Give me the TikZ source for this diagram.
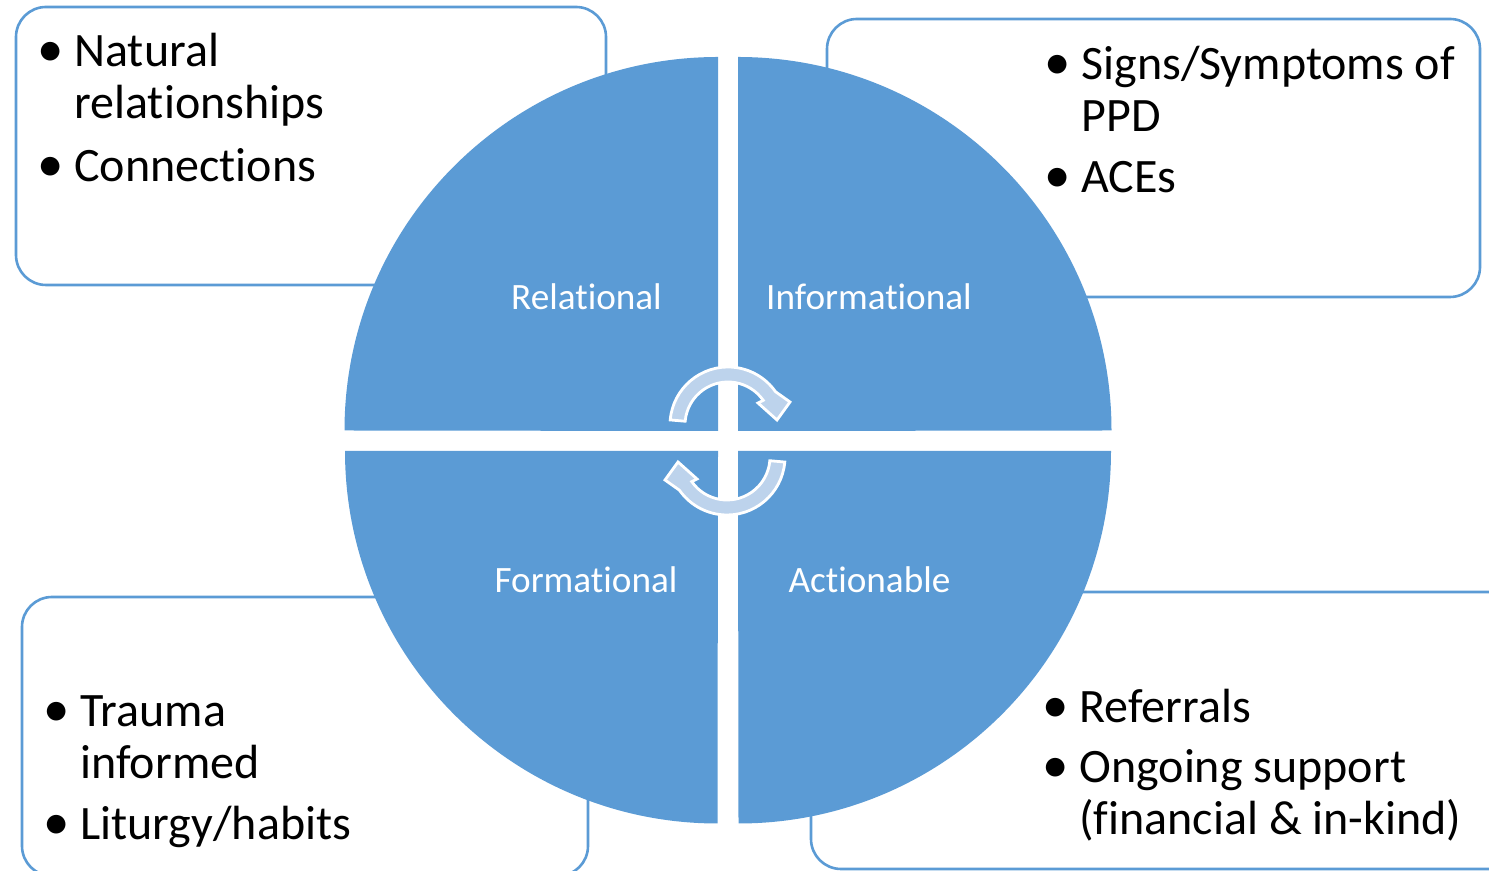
\documentclass[tikz,border=0pt]{standalone}
\usepackage{fontspec}
\setmainfont{Carlito}[Ligatures={CommonOff,ContextualOff}]
\usepackage{tikz}
\usetikzlibrary{positioning,calc}

\definecolor{quadblue}{HTML}{5B9BD5}
\definecolor{arrowblue}{HTML}{BDD3EC}

\newcommand{\bulitem}[1]{\makebox[18.5pt][l]{\scalebox{1.1}{\textbullet}}\begin{tabular}[t]{@{}l@{}}#1\end{tabular}}

\tikzset{
  infobox/.style={draw=quadblue, line width=1.3pt, fill=white, rounded corners=15pt, inner sep=0pt},
  quad/.style={fill=quadblue, draw=none},
  quadlabel/.style={text=white, font=\fontsize{18.6pt}{20pt}\selectfont, anchor=base, inner sep=0pt},
  itemtxt/.style={font=\fontsize{24pt}{26pt}\selectfont, anchor=base west, inner sep=0pt},
  arrowshape/.style={fill=arrowblue, draw=white, line width=1.4pt, line join=miter},
  cyclearrow/.pic={
    \path[arrowshape] (175:58) arc[start angle=175, end angle=35, radius=58]
      -- (62,23) -- (49,5) -- (30,22) -- (35:43)
      arc[start angle=35, end angle=175, radius=43] -- cycle;
  }
}

\begin{document}
\begin{tikzpicture}[x=0.5pt, y=0.5pt]

  \path[use as bounding box, clip] (0,0) rectangle (1489,871);

  % boxes behind the circle
  \node[infobox, minimum width=295pt, minimum height=139pt] (relbox) at (311,725) {};
  \node[infobox, minimum width=326.5pt, minimum height=139pt] (infbox) at (1153.5,713) {};
  \node[infobox, minimum width=283pt, minimum height=139.5pt] (forbox) at (305,134.5) {};
  \node[infobox, minimum width=364.5pt, minimum height=138.5pt] (actbox) at (1175.5,140.5) {};

  % four quarters
  \path[quad] (718,440) -- ++(0,374) arc[start angle=90, end angle=180, radius=373.5] -- cycle;
  \path[quad] (738,440) -- ++(0,374) arc[start angle=90, end angle=0, radius=373.5] -- cycle;
  \path[quad] (718,420) -- ++(-373,0) arc[start angle=180, end angle=270, radius=372.5] -- cycle;
  \path[quad] (738,420) -- ++(373,0) arc[start angle=0, end angle=-90, radius=372.5] -- cycle;

  \node[quadlabel] (rel) at (586.5,561) {Relational};
  \node[quadlabel] (inf) at (869,561) {Informational};
  \node[quadlabel] (for) at (586,278) {Formational};
  \node[quadlabel] (act) at (869.5,278) {Actionable};

  % cycle arrows
  \pic (uparr) at (728,446) {cyclearrow};
  \pic[rotate=180] (lowarr) at (727,414) {cyclearrow};

  % bullet texts
  \node[itemtxt] (rel1) at (37,804) {\bulitem{Natural\\relationships}};
  \node[itemtxt] (rel2) at (37,689) {\bulitem{Connections}};
  \node[itemtxt] (inf1) at (1044,791) {\bulitem{Signs/Symptoms of\\PPD}};
  \node[itemtxt] (inf2) at (1044,678) {\bulitem{ACEs}};
  \node[itemtxt] (for1) at (43,144) {\bulitem{Trauma\\informed}};
  \node[itemtxt] (for2) at (43,31) {\bulitem{Liturgy/habits}};
  \node[itemtxt] (act1) at (1042,148) {\bulitem{Referrals}};
  \node[itemtxt] (act2) at (1042,88) {\bulitem{Ongoing support\\(financial \& in-kind)}};

\end{tikzpicture}
\end{document}
